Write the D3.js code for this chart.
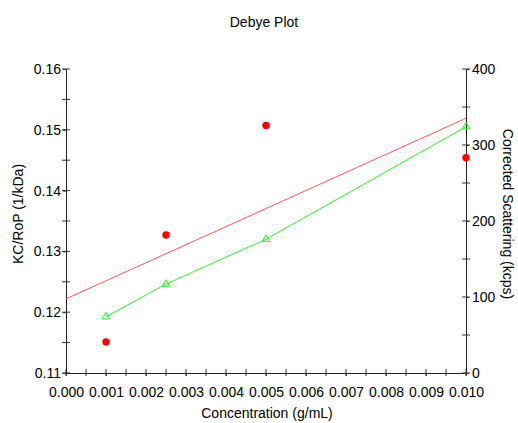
<!DOCTYPE html>
<html>
<head>
<meta charset="utf-8">
<script src="https://cdn.jsdelivr.net/npm/d3@7"></script>
<style>
  body { margin: 0; background: #fff; }
  text { font-family: "Liberation Sans", Arial, sans-serif; fill: #000; }
</style>
</head>
<body>
<svg id="chart" width="518" height="423"></svg>
<script>
// data
const concentration = [0.001, 0.0025, 0.005, 0.010];
const kcRop = [0.1151, 0.1327, 0.1507, 0.1454];
const scattering = [74, 117, 176, 324];
const fitIntercept = 0.1222;
const fitSlope = 2.97;
const xTicks = [0, 0.001, 0.002, 0.003, 0.004, 0.005, 0.006, 0.007, 0.008, 0.009, 0.010];
const yLeftTicks = [0.11, 0.12, 0.13, 0.14, 0.15, 0.16];
const yRightTicks = [0, 100, 200, 300, 400];

const plotLeft = 66, plotRight = 466, plotTop = 69, plotBottom = 373;

const svg = d3.select("#chart");

const x = d3.scaleLinear().domain([0, 0.01]).range([plotLeft, plotRight]);
const yL = d3.scaleLinear().domain([0.11, 0.16]).range([plotBottom, plotTop]);
const yR = d3.scaleLinear().domain([0, 400]).range([plotBottom, plotTop]);

// all ticks (major + minor) cross the axis line
const minorX = d3.range(0, 0.01001, 0.0005);
const minorYL = d3.range(0.11, 0.16001, 0.005);
const minorYR = d3.range(0, 401, 50);

svg.append("g").selectAll("line").data(minorX).join("line")
    .attr("x1", d => x(d)).attr("x2", d => x(d))
    .attr("y1", plotBottom - 4).attr("y2", plotBottom + 3)
    .attr("stroke", "#333");
svg.append("g").selectAll("line").data(minorYL).join("line")
    .attr("y1", d => yL(d)).attr("y2", d => yL(d))
    .attr("x1", plotLeft - 4).attr("x2", plotLeft + 4)
    .attr("stroke", "#333");
svg.append("g").selectAll("line").data(minorYR).join("line")
    .attr("y1", d => yR(d)).attr("y2", d => yR(d))
    .attr("x1", plotRight - 4).attr("x2", plotRight + 4)
    .attr("stroke", "#333");

// axes
const xAxis = svg.append("g")
    .attr("transform", `translate(0,${plotBottom})`)
    .call(d3.axisBottom(x).tickValues(xTicks).tickFormat(d3.format(".3f")).tickSize(3).tickPadding(11));
const yAxisL = svg.append("g")
    .attr("transform", `translate(${plotLeft},0)`)
    .call(d3.axisLeft(yL).tickValues(yLeftTicks).tickFormat(d3.format(".2f")).tickSize(3).tickPadding(2));
const yAxisR = svg.append("g")
    .attr("transform", `translate(${plotRight},0)`)
    .call(d3.axisRight(yR).tickValues(yRightTicks).tickSize(3).tickPadding(3));

[xAxis, yAxisL, yAxisR].forEach(g => {
    g.select(".domain").attr("stroke", "#222");
    g.selectAll(".tick line").attr("stroke", "#333");
    g.selectAll(".tick text").style("font-size", "14px").attr("fill", "#000");
});

// fit line
const fitX = [0, 0.01];
svg.append("path")
    .datum(fitX)
    .attr("d", d3.line().x(d => x(d)).y(d => yL(fitIntercept + fitSlope * d)))
    .attr("fill", "none")
    .attr("stroke", "#ff5a5a")
    .attr("stroke-width", 1);

// scattering line
const scatPts = concentration.map((c, i) => [c, scattering[i]]);
svg.append("path")
    .datum(scatPts)
    .attr("d", d3.line().x(d => x(d[0])).y(d => yR(d[1])))
    .attr("fill", "none")
    .attr("stroke", "#33ee33")
    .attr("stroke-width", 1);

svg.append("g").selectAll("path").data(scatPts).join("path")
    .attr("d", d3.symbol().type(d3.symbolTriangle).size(24))
    .attr("transform", d => `translate(${x(d[0])},${yR(d[1])})`)
    .attr("fill", "none")
    .attr("stroke", "#22ee22")
    .attr("stroke-width", 1);

// KC/RoP points
svg.append("g").selectAll("circle").data(concentration).join("circle")
    .attr("cx", d => x(d))
    .attr("cy", (d, i) => yL(kcRop[i]))
    .attr("r", 3.7)
    .attr("fill", "#ff0000");

// titles
svg.append("text")
    .attr("x", 264).attr("y", 27)
    .attr("text-anchor", "middle")
    .style("font-size", "14px")
    .text("Debye Plot");

svg.append("text")
    .attr("x", 267).attr("y", 418)
    .attr("text-anchor", "middle")
    .style("font-size", "14px")
    .text("Concentration (g/mL)");

svg.append("text")
    .attr("transform", "translate(23,214) rotate(-90)")
    .attr("text-anchor", "middle")
    .style("font-size", "14px")
    .text("KC/RoP (1/kDa)");

svg.append("text")
    .attr("transform", "translate(503,214) rotate(90)")
    .attr("text-anchor", "middle")
    .style("font-size", "14px")
    .text("Corrected Scattering (kcps)");
</script>
</body>
</html>
